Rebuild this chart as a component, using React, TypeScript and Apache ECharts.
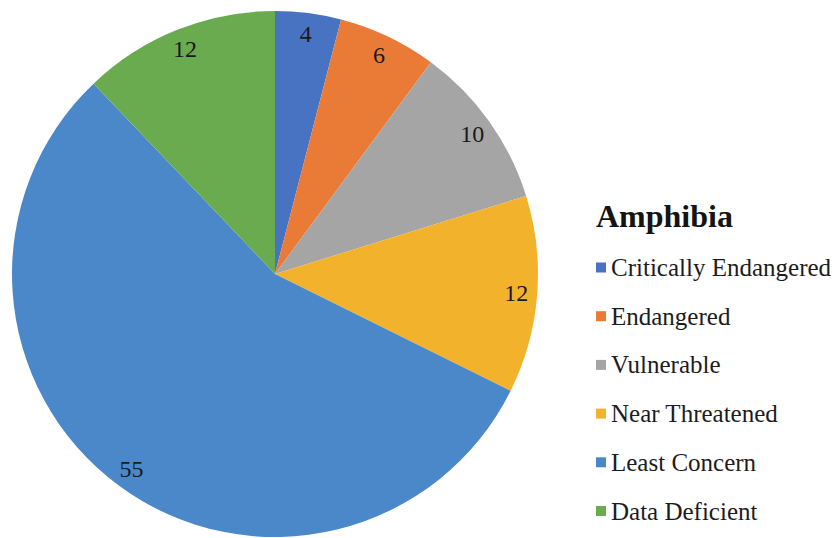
import React, { useEffect, useRef } from "react";
import * as echarts from "echarts";

// Amphibia species counts by IUCN Red List category
const categories = [
  "Critically Endangered",
  "Endangered",
  "Vulnerable",
  "Near Threatened",
  "Least Concern",
  "Data Deficient",
];
const counts = [4, 6, 10, 12, 55, 12];
const sliceColors = ["#4872C2", "#E97B36", "#A5A5A5", "#F3B22C", "#4A88C9", "#6BAB50"];
const legendTitle = "Amphibia";

const FONT = "Times New Roman, Liberation Serif, Tinos, DejaVu Serif, serif";
const CX = 275;
const CY = 274;
const R = 263;

export default function App() {
  const ref = useRef<HTMLDivElement>(null);

  useEffect(() => {
    if (!ref.current) return;
    const chart = echarts.init(ref.current, undefined, { renderer: "svg" });
    const data = categories.map((name, i) => ({
      name,
      value: counts[i],
      itemStyle: { color: sliceColors[i] },
    }));

    chart.setOption({
      animation: false,
      backgroundColor: "#ffffff",
      textStyle: { fontFamily: FONT },
      title: {
        text: legendTitle,
        left: 596,
        top: 200,
        padding: 0,
        textStyle: {
          fontFamily: FONT,
          fontSize: 32,
          fontWeight: "bold",
          color: "#141414",
          lineHeight: 32,
        },
      },
      legend: {
        orient: "vertical",
        left: 596,
        top: 255,
        padding: 0,
        itemWidth: 10,
        itemHeight: 10,
        itemGap: 23.7,
        icon: "rect",
        selectedMode: false,
        data: categories,
        textStyle: {
          fontFamily: FONT,
          fontSize: 25,
          lineHeight: 25,
          color: "#1c1c1c",
        },
      },
      series: [
        {
          type: "pie",
          center: [CX, CY],
          radius: [0, R],
          startAngle: 90,
          clockwise: true,
          silent: true,
          label: { show: false },
          labelLine: { show: false },
          data,
        },
        {
          // transparent ring used to place value labels near the rim
          type: "pie",
          center: [CX, CY],
          radius: [215, R],
          startAngle: 90,
          clockwise: true,
          silent: true,
          legendHoverLink: false,
          itemStyle: { color: "rgba(0,0,0,0)" },
          label: {
            show: true,
            position: "inside",
            formatter: "{c}",
            fontFamily: FONT,
            fontSize: 24,
            color: "#1a1a1a",
          },
          labelLine: { show: false },
          data: categories.map((name, i) => ({
            name: name + " ",
            value: counts[i],
          })),
        },
      ],
    });

    return () => chart.dispose();
  }, []);

  return (
    <div
      ref={ref}
      style={{ position: "fixed", left: 0, top: 0, width: 840, height: 538 }}
    />
  );
}
